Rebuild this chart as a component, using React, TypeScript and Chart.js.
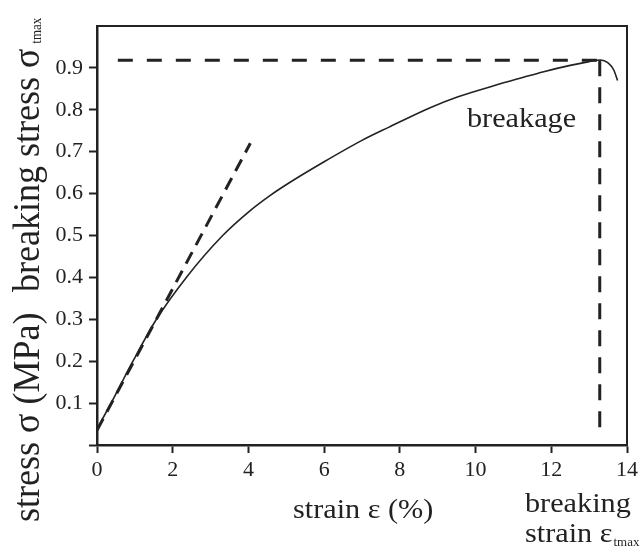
import React, { useEffect, useRef } from "react";
import { Chart, registerables } from "chart.js";

Chart.register(...registerables);

// Stress–strain curve (strain %, stress MPa)
const strainValues = [0, 0.4, 0.95, 1.57, 2.36, 3.32, 4.0, 4.55, 5.1, 6.0, 7.0, 7.7, 8.8, 9.5, 10.5, 11.2, 11.8, 12.5, 13.0, 13.3, 13.5, 13.65, 13.75];
const stressValues = [0.038, 0.105, 0.2, 0.3, 0.4, 0.5, 0.556, 0.594, 0.627, 0.676, 0.727, 0.758, 0.805, 0.83, 0.858, 0.876, 0.891, 0.906, 0.915, 0.919, 0.912, 0.895, 0.87];

// Initial tangent (elastic slope)
const tangentX = [0, 4.05];
const tangentY = [0.035, 0.72];

// Breaking point guides
const breakStress = 0.918;
const breakStrain = 13.28;
const guideStartX = 0.55;
const guideBottomY = 0.03;

const xTicks = { min: 0, max: 14, step: 2 };
const yTicks = { min: 0, max: 1, step: 0.1 };

const INK = "#222";
const SERIF = '"Liberation Serif", "Times New Roman", serif';

function toPoints(xs: number[], ys: number[]) {
  return xs.map((x, i) => ({ x, y: ys[i] }));
}

const textPlugin = {
  id: "annotTexts",
  afterDraw(chart: any) {
    const ctx = chart.ctx as CanvasRenderingContext2D;
    const { chartArea } = chart;
    ctx.save();
    ctx.fillStyle = INK;
    ctx.strokeStyle = INK;
    // top and right frame
    ctx.lineWidth = 2;
    ctx.beginPath();
    ctx.moveTo(chartArea.left, chartArea.top);
    ctx.lineTo(chartArea.right, chartArea.top);
    ctx.lineTo(chartArea.right, chartArea.bottom);
    ctx.stroke();

    ctx.textBaseline = "alphabetic";
    const hs = 1.08;

    // y title lower part
    ctx.save();
    ctx.translate(39, 522);
    ctx.scale(1.05, 1);
    ctx.rotate(-Math.PI / 2);
    ctx.font = `36px ${SERIF}`;
    ctx.fillText("stress σ (MPa)", 0, 0);
    ctx.restore();

    // y title upper part
    ctx.save();
    ctx.translate(39, 292);
    ctx.scale(1.05, 1);
    ctx.rotate(-Math.PI / 2);
    ctx.font = `36px ${SERIF}`;
    const t1 = "breaking stress σ";
    ctx.fillText(t1, 0, 0);
    const w1 = ctx.measureText(t1).width;
    ctx.font = `13px ${SERIF}`;
    ctx.fillText("tmax", w1 + 5, 2);
    ctx.restore();

    // breakage
    ctx.save();
    ctx.translate(467, 127);
    ctx.scale(hs, 1);
    ctx.font = `28px ${SERIF}`;
    ctx.fillText("breakage", 0, 0);
    ctx.restore();

    // x title
    ctx.save();
    ctx.translate(293, 518);
    ctx.scale(hs, 1);
    ctx.font = `28px ${SERIF}`;
    ctx.fillText("strain ε (%)", 0, 0);
    ctx.restore();

    // breaking strain label
    ctx.save();
    ctx.translate(525, 512);
    ctx.scale(hs, 1);
    ctx.font = `28px ${SERIF}`;
    ctx.fillText("breaking", 0, 0);
    ctx.restore();

    ctx.save();
    ctx.translate(525, 542);
    ctx.scale(hs, 1);
    ctx.font = `28px ${SERIF}`;
    const t2 = "strain ε";
    ctx.fillText(t2, 0, 0);
    const w2 = ctx.measureText(t2).width;
    ctx.font = `12px ${SERIF}`;
    ctx.fillText("tmax", w2 + 1, 4);
    ctx.restore();

    ctx.restore();
  },
};

export default function App() {
  const canvasRef = useRef<HTMLCanvasElement | null>(null);

  useEffect(() => {
    document.body.style.margin = "0";
    const canvas = canvasRef.current;
    if (!canvas) return;
    const hideTop = (c: any) =>
      c.tick && Math.abs(c.tick.value - 1) < 1e-6 ? "rgba(0,0,0,0)" : INK;

    const chart = new Chart(canvas, {
      type: "line",
      data: {
        datasets: [
          {
            data: toPoints(strainValues, stressValues),
            borderColor: INK,
            borderWidth: 1.6,
            pointRadius: 0,
            cubicInterpolationMode: "monotone",
            fill: false,
          },
          {
            data: toPoints(tangentX, tangentY),
            borderColor: INK,
            borderWidth: 3,
            borderDash: [13, 8],
            pointRadius: 0,
            tension: 0,
            fill: false,
          },
          {
            data: toPoints([guideStartX, breakStrain], [breakStress, breakStress]),
            borderColor: INK,
            borderWidth: 3,
            borderDash: [15, 14],
            pointRadius: 0,
            tension: 0,
            fill: false,
          },
          {
            data: toPoints([breakStrain, breakStrain], [breakStress, guideBottomY]),
            borderColor: INK,
            borderWidth: 3,
            borderDash: [16, 11],
            pointRadius: 0,
            tension: 0,
            fill: false,
          },
        ],
      },
      options: {
        responsive: false,
        animation: false,
        events: [],
        layout: { padding: { top: 26, right: 14, left: 0, bottom: 0 } },
        plugins: { legend: { display: false }, tooltip: { enabled: false } },
        scales: {
          x: {
            type: "linear",
            min: xTicks.min,
            max: xTicks.max,
            afterFit: (s: any) => {
              s.height = 105;
            },
            ticks: {
              stepSize: xTicks.step,
              color: INK,
              padding: 4,
              font: { family: SERIF, size: 22 },
              maxRotation: 0,
            },
            grid: {
              drawOnChartArea: false,
              drawTicks: true,
              tickLength: 8,
              tickWidth: 2,
              tickColor: INK,
            },
            border: { display: true, width: 2.5, color: INK },
          },
          y: {
            type: "linear",
            min: yTicks.min,
            max: yTicks.max,
            afterFit: (s: any) => {
              s.width = 97;
            },
            ticks: {
              stepSize: yTicks.step,
              color: INK,
              padding: 6,
              font: { family: SERIF, size: 22 },
              callback: (v: any) => {
                const n = Number(v);
                if (Math.abs(n) < 1e-6 || Math.abs(n - 1) < 1e-6) return "";
                return n.toFixed(1);
              },
            },
            grid: {
              drawOnChartArea: false,
              drawTicks: true,
              tickLength: 8,
              tickWidth: 2,
              tickColor: hideTop,
            },
            border: { display: true, width: 2.5, color: INK },
          },
        },
      },
      plugins: [textPlugin],
    } as any);
    return () => chart.destroy();
  }, []);

  return (
    <div style={{ width: 642, height: 550, background: "#fff" }}>
      <canvas ref={canvasRef} width={642} height={550} />
    </div>
  );
}
